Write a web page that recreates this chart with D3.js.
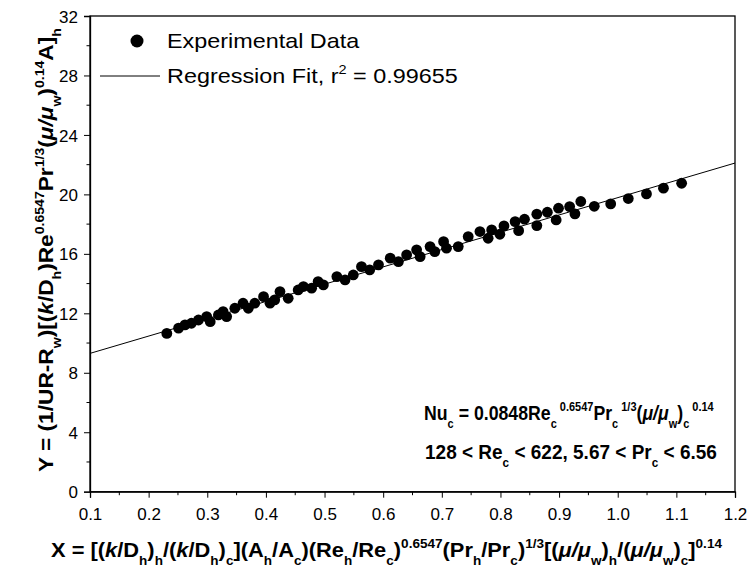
<!DOCTYPE html>
<html><head><meta charset="utf-8">
<script src="https://cdn.jsdelivr.net/npm/d3@7"></script>
<style>body{margin:0;background:#fff}svg{display:block}text{font-family:"Liberation Sans",Arial,sans-serif}</style>
</head><body><svg id="c" width="749" height="568"></svg>
<script>
const xData = [0.231,0.251,0.262,0.273,0.285,0.299,0.305,0.319,0.327,0.333,0.347,0.361,0.370,0.381,0.396,0.407,0.415,0.424,0.438,0.455,0.464,0.478,0.489,
0.498,0.521,0.535,0.549,0.563,0.577,0.592,0.612,0.626,0.640,0.657,0.663,0.680,0.688,0.703,0.708,0.728,0.745,0.765,0.779,
0.785,0.799,0.806,0.825,0.831,0.841,0.862,0.862,0.880,0.895,0.899,0.918,0.927,0.937,0.960,0.988,1.018,1.049,1.078,1.109];
const yData = [10.65,11.0,11.22,11.33,11.55,11.78,11.44,11.89,12.11,11.78,12.34,12.68,12.34,12.68,13.12,12.68,12.9,13.46,13.01,13.57,13.8,13.69,14.13,
13.91,14.47,14.25,14.58,15.14,14.92,15.26,15.71,15.48,15.93,16.27,15.81,16.49,16.15,16.82,16.38,16.49,17.16,17.5,17.05,
17.61,17.32,17.88,18.17,17.56,18.33,18.67,17.9,18.8,18.28,19.07,19.18,18.69,19.52,19.2,19.36,19.72,20.03,20.42,20.75];
const fitIntercept = 8.14, fitSlope = 11.64;
const xTicks = [0.1,0.2,0.3,0.4,0.5,0.6,0.7,0.8,0.9,1.0,1.1,1.2];
const yTicks = [0,4,8,12,16,20,24,28,32];
const legendLabels = ["Experimental Data", "Regression Fit, r", "2", " = 0.99655"];

const svg = d3.select("#c");
const L=90,R=735,T=16,B=491.7;
const x = d3.scaleLinear().domain([0.1,1.2]).range([L,R]);
const y = d3.scaleLinear().domain([0,32]).range([B,T]);

function rich(sel, segs, fs){
  let cur=0;
  segs.forEach(s=>{
    let off=0, size=fs;
    if(s[1]==='sub'){off=fs*0.38; size=fs*0.62;}
    else if(s[1]==='sup'){off=-fs*0.45; size=fs*0.62;}
    const t=sel.append("tspan").text(s[0]).attr("font-size",size);
    if(off-cur!==0) t.attr("dy",off-cur);
    if(s[2]) t.attr("font-style","italic");
    cur=off;
  });
  return sel;
}
function fit(g, text, x0, x1){
  const bb = text.node().getBBox();
  const sx = (x1-x0)/bb.width;
  text.attr("transform",`translate(${x0},0) scale(${sx},1) translate(${-bb.x},0)`);
}

svg.append("rect").attr("x",L).attr("y",T).attr("width",R-L).attr("height",B-T).attr("fill","none").attr("stroke","#000").attr("stroke-width",1.3);

const xAxis = d3.axisBottom(x).tickValues(xTicks).tickFormat(d3.format(".1f")).tickSize(6).tickPadding(6);
const gx = svg.append("g").attr("transform",`translate(0,${B})`).call(xAxis);
const xMinor = d3.range(0.15,1.2,0.1);
gx.selectAll(".minor").data(xMinor).enter().append("line").attr("x1",d=>x(d)).attr("x2",d=>x(d)).attr("y1",0).attr("y2",3.5).attr("stroke","#000");
const yAxis = d3.axisLeft(y).tickValues(yTicks).tickSize(6).tickPadding(6);
const gy = svg.append("g").attr("transform",`translate(${L},0)`).call(yAxis);
const yMinor = d3.range(2,32,4);
gy.selectAll(".minor").data(yMinor).enter().append("line").attr("y1",d=>y(d)).attr("y2",d=>y(d)).attr("x1",0).attr("x2",-3.5).attr("stroke","#000");
[gx,gy].forEach(g=>{
  g.select(".domain").attr("stroke","#000").attr("stroke-width",1.3);
  g.selectAll("text").attr("font-size",17).attr("font-family","Liberation Sans, Arial, sans-serif").attr("fill","#000");
});
gx.selectAll(".tick text").attr("dy","0.95em");
gy.selectAll(".tick text").attr("dy","0.36em");

svg.append("clipPath").attr("id","cp").append("rect").attr("x",L).attr("y",T).attr("width",R-L).attr("height",B-T);
svg.append("line").attr("clip-path","url(#cp)")
 .attr("x1",x(0.1)).attr("y1",y(fitIntercept+fitSlope*0.1))
 .attr("x2",x(1.2)).attr("y2",y(fitIntercept+fitSlope*1.2))
 .attr("stroke","#000").attr("stroke-width",1);

svg.append("g").selectAll("circle").data(xData.map((d,i)=>[d,yData[i]])).enter().append("circle")
 .attr("cx",d=>x(d[0])).attr("cy",d=>y(d[1])).attr("r",5.4).attr("fill","#000");

svg.append("circle").attr("cx",137).attr("cy",41).attr("r",6.5).attr("fill","#000");
const l1 = svg.append("text").attr("y",48.5).attr("font-size",20.5).text(legendLabels[0]);
fit(svg,l1,167,360);
svg.append("line").attr("x1",100).attr("x2",160).attr("y1",76).attr("y2",76).attr("stroke","#000");
const l2 = rich(svg.append("text").attr("y",83.5).attr("font-size",20.5), [[legendLabels[1],'n'],[legendLabels[2],'sup'],[legendLabels[3],'n']], 20.5);
fit(svg,l2,167,458);

const a1 = rich(svg.append("text").attr("y",420).attr("font-weight","bold"),
 [["Nu",'n'],["c",'sub'],[" = 0.0848Re",'n'],["c",'sub'],[" 0.6547",'sup'],["Pr",'n'],["c",'sub'],[" 1/3",'sup'],["(",'n'],["\u03BC/\u03BC",'n',1],["w",'sub'],[")",'n'],["c",'sub'],[" 0.14",'sup']],20);
fit(svg,a1,424,714);
const a2 = rich(svg.append("text").attr("y",459).attr("font-weight","bold"),
 [["128 < Re",'n'],["c",'sub'],[" < 622, 5.67 < Pr",'n'],["c",'sub'],[" < 6.56",'n']],20);
fit(svg,a2,425,717);

const xt = rich(svg.append("text").attr("y",557).attr("font-weight","bold"),
 [["X = [(",'n'],["k",'n',1],["/D",'n'],["h",'sub'],[")",'n'],["h",'sub'],["/(",'n'],["k",'n',1],["/D",'n'],["h",'sub'],[")",'n'],["c",'sub'],["](A",'n'],["h",'sub'],["/A",'n'],["c",'sub'],[")(Re",'n'],["h",'sub'],["/Re",'n'],["c",'sub'],[")",'n'],["0.6547",'sup'],["(Pr",'n'],["h",'sub'],["/Pr",'n'],["c",'sub'],[")",'n'],["1/3",'sup'],["[(",'n'],["\u03BC/\u03BC",'n',1],["w",'sub'],[")",'n'],["h",'sub'],["/(",'n'],["\u03BC/\u03BC",'n',1],["w",'sub'],[")",'n'],["c",'sub'],["]",'n'],["0.14",'sup']],20.5);
fit(svg,xt,51,722);

const yg = svg.append("g").attr("transform","rotate(-90)");
const yt = rich(yg.append("text").attr("y",53).attr("font-weight","bold"),
 [["Y = (1/UR-R",'n'],["w",'sub'],[")[(",'n'],["k",'n',1],["/D",'n'],["h",'sub'],[")Re",'n'],["0.6547",'sup'],["Pr",'n'],["1/3",'sup'],["(",'n'],["\u03BC/\u03BC",'n',1],["w",'sub'],[")",'n'],["0.14",'sup'],["A]",'n'],["h",'sub']],20.5);
fit(yg,yt,-472,-28);
</script></body></html>
